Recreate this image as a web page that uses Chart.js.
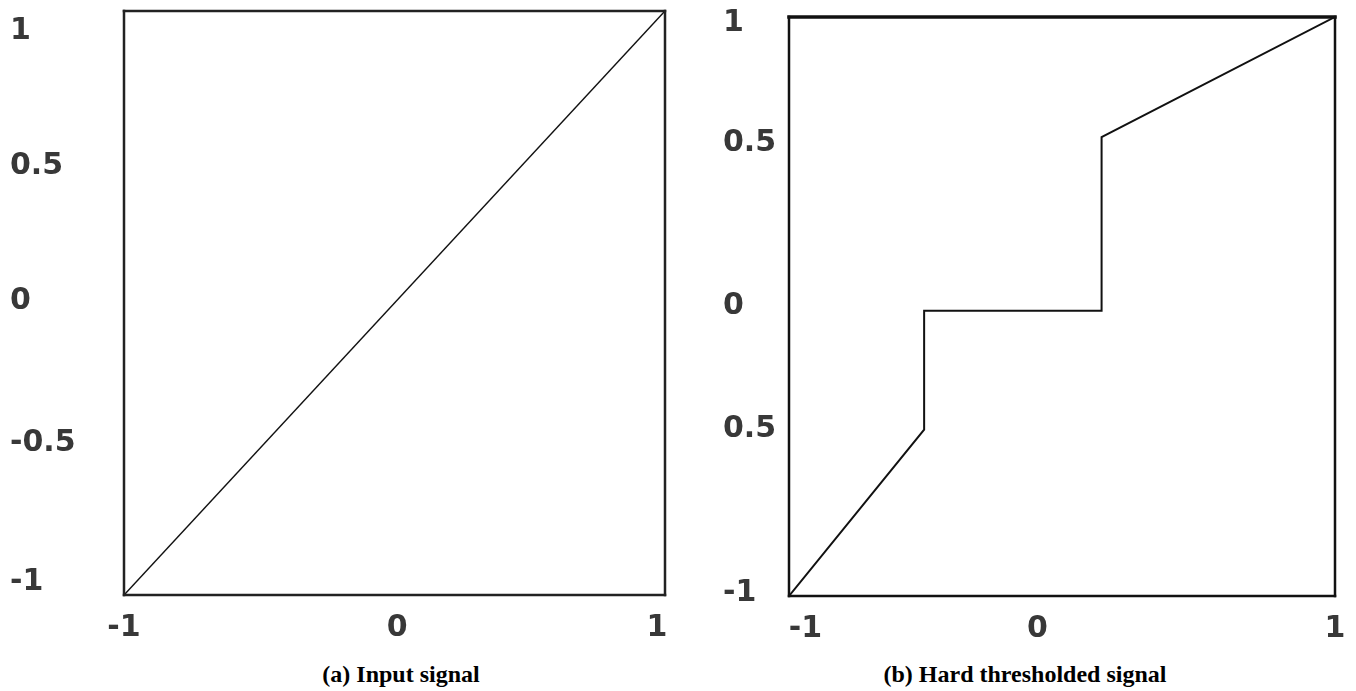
<!DOCTYPE html>
<html>
<head>
<meta charset="utf-8">
<script src="https://cdn.jsdelivr.net/npm/chart.js@4.4.1/dist/chart.umd.min.js"></script>
<style>
  body { margin: 0; background: #fff; width: 1356px; height: 691px; position: relative; overflow: hidden; }
  .panel { position: absolute; top: 0; height: 650px; }
  .caption { position: absolute; top: 662px; font-family: "Liberation Serif", "Times New Roman", serif;
             font-weight: bold; font-size: 24px; line-height: 1; color: #000; transform: translateX(-50%); white-space: nowrap; }
</style>
</head>
<body>
<div class="panel" style="left:0;width:700px"><canvas id="chartA"></canvas></div>
<div class="panel" style="left:700px;width:656px"><canvas id="chartB"></canvas></div>
<div class="caption" style="left:401px">(a) Input signal</div>
<div class="caption" style="left:1025px">(b) Hard thresholded signal</div>
<script>
// (a) input signal: straight line
var inputX = [-1, 1];
var inputY = [-1, 1];

// (b) hard thresholded signal
var hardX = [-1, -0.505, -0.505, 0.145, 0.145, 1];
var hardY = [-1, -0.425, -0.015, -0.015, 0.585, 1];

// tick labels and where they sit on the axes
var aXTicks = [-1, 0.01, 0.97];
var aXLabels = ["-1", "0", "1"];
var aYTicks = [0.93, 0.47, 0.005, -0.48, -0.955];
var aYLabels = ["1", "0.5", "0", "-0.5", "-1"];

var bXTicks = [-0.94, -0.09, 1];
var bXLabels = ["-1", "0", "1"];
var bYTicks = [0.98, 0.565, 0.0, -0.425, -0.99];
var bYLabels = ["1", "0.5", "0", "0.5", "-1"];

function points(xs, ys) {
  return xs.map(function(x, i){ return {x: x, y: ys[i]}; });
}

// draws the box round the plot area
var boxPlugin = {
  id: 'box',
  afterDraw: function(chart, args, opts) {
    var a = chart.chartArea, ctx = chart.ctx;
    ctx.save();
    ctx.strokeStyle = opts.color;
    ctx.lineCap = 'square';
    function side(w, x1, y1, x2, y2) {
      ctx.lineWidth = w;
      ctx.beginPath(); ctx.moveTo(x1, y1); ctx.lineTo(x2, y2); ctx.stroke();
    }
    side(opts.top, a.left, a.top, a.right, a.top);
    side(opts.width, a.right, a.top, a.right, a.bottom);
    side(opts.width, a.left, a.bottom, a.right, a.bottom);
    side(opts.width, a.left, a.top, a.left, a.bottom);
    ctx.restore();
  }
};

function makeChart(id, xs, ys, lineW, xt, xl, yt, yl, pad, yWidth, box) {
  var tickFont = { family: "'DejaVu Sans', Verdana, sans-serif", size: 30, weight: 'bold' };
  return new Chart(document.getElementById(id), {
    type: 'scatter',
    data: {
      datasets: [{
        data: points(xs, ys),
        showLine: true,
        borderColor: '#111',
        borderWidth: lineW,
        pointRadius: 0,
        tension: 0
      }]
    },
    options: {
      responsive: true,
      maintainAspectRatio: false,
      animation: false,
      layout: { padding: pad },
      plugins: { legend: { display: false }, tooltip: { enabled: false }, box: box },
      scales: {
        x: {
          type: 'linear', min: -1, max: 1,
          grid: { display: false, drawTicks: false },
          border: { display: false },
          afterBuildTicks: function(s){ s.ticks = xt.map(function(v){ return {value: v}; }); },
          afterFit: function(s){ s.height = 45; s.paddingLeft = 0; s.paddingRight = 0; },
          ticks: {
            padding: 15, color: '#383838', font: tickFont, maxRotation: 0, autoSkip: false,
            callback: function(v, i){ return xl[i]; }
          }
        },
        y: {
          type: 'linear', min: -1, max: 1,
          grid: { display: false, drawTicks: false },
          border: { display: false },
          afterBuildTicks: function(s){ s.ticks = yt.map(function(v){ return {value: v}; }); },
          afterFit: function(s){ s.width = yWidth; s.paddingTop = 0; s.paddingBottom = 0; },
          ticks: {
            crossAlign: 'far', color: '#383838', font: tickFont, autoSkip: false,
            callback: function(v, i){ return yl[i]; }
          }
        }
      }
    },
    plugins: [boxPlugin]
  });
}

makeChart('chartA', inputX, inputY, 1.5, aXTicks, aXLabels, aYTicks, aYLabels,
  { left: 10, top: 11, right: 35, bottom: 10 }, 114, { color: '#222', width: 2.5, top: 2.5 });

makeChart('chartB', hardX, hardY, 2, bXTicks, bXLabels, bYTicks, bYLabels,
  { left: 23, top: 17, right: 21, bottom: 9 }, 66, { color: '#111', width: 2.5, top: 3.5 });
</script>
</body>
</html>
